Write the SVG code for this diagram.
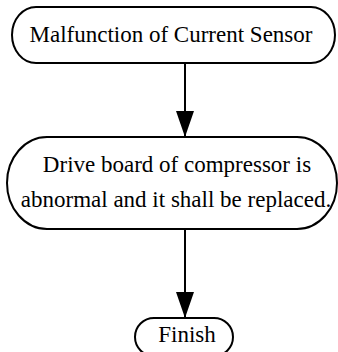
<svg xmlns="http://www.w3.org/2000/svg" width="338" height="352" viewBox="0 0 338 352">
<style>
.box{fill:#fff;stroke:#000;stroke-width:2}
.t{font-family:"Liberation Serif","Times New Roman","DejaVu Serif",serif;font-size:23px;fill:#000;text-anchor:middle}
.c{stroke:#000;stroke-width:2;fill:none}
</style>
<defs>
<marker id="ah" markerUnits="userSpaceOnUse" markerWidth="26" markerHeight="18" refX="26" refY="9" orient="auto" viewBox="0 0 26 18">
<path d="M0,0 L26,9 L0,18 Z" fill="#000"/>
</marker>
</defs>
<rect width="338" height="352" fill="#fff"/>
<g id="connectors">
<line class="c" x1="185" y1="63" x2="185" y2="137" marker-end="url(#ah)"/>
<line class="c" x1="185" y1="229" x2="185" y2="318" marker-end="url(#ah)"/>
</g>
<g id="n1">
<rect class="box" x="12" y="7" width="323" height="56" rx="24" ry="28"/>
<text class="t" x="171" y="42">Malfunction of Current Sensor</text>
</g>
<g id="n2">
<rect class="box" x="7" y="137" width="330" height="92" rx="40" ry="46"/>
<text class="t" x="177" y="172">Drive board of compressor is</text>
<text class="t" x="176" y="207">abnormal and it shall be replaced.</text>
</g>
<g id="n3">
<rect class="box" x="135" y="318" width="98" height="38" rx="19" ry="19"/>
<text class="t" x="187" y="342">Finish</text>
</g>
</svg>
